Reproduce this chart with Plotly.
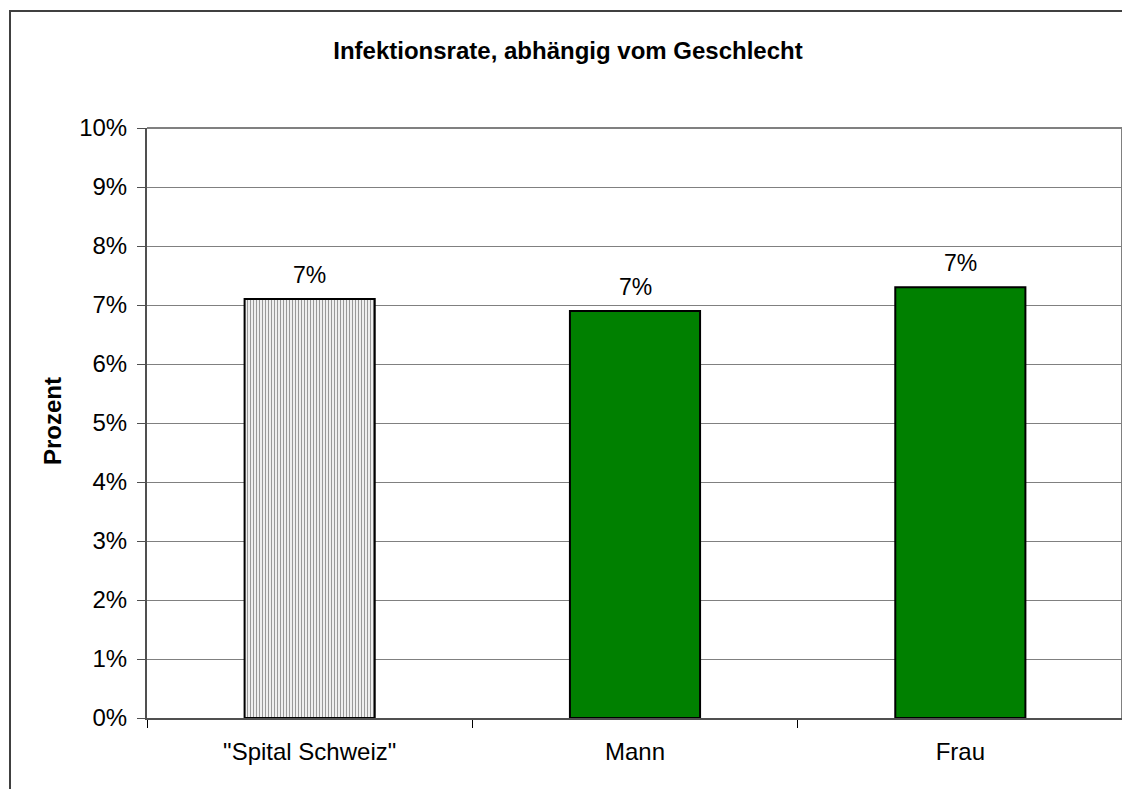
import plotly.graph_objects as go

categories = ['"Spital Schweiz"', "Mann", "Frau"]
values = [0.071, 0.069, 0.073]
bar_colors = ["#EFEFEF", "#008000", "#008000"]
title_text = "Infektionsrate, abhängig vom Geschlecht"
y_title = "Prozent"
y_ticks = [i / 100 for i in range(0, 11)]
y_ticklabels = [f"{i}%" for i in range(0, 11)]

W, H = 1130, 789
OFF = 8  # page offset of the figure in the screenshot
# target plot-area edges in screen pixels
SL, SR, ST, SB = 147, 1123, 128, 718
L, T = SL - OFF, ST - OFF
R = W - (SR - OFF)
B = H - (SB - OFF)
pw, ph = W - L - R, H - T - B

def px_x(sx):
    return (sx - SL) / pw

def px_y(sy):
    return (SB - sy) / ph

font = "Liberation Sans, Arial, sans-serif"

fig = go.Figure()
fig.add_trace(go.Bar(
    x=categories,
    y=values,
    width=0.4,
    marker=dict(
        color=bar_colors,
        line=dict(color="#000000", width=2),
        pattern=dict(shape=["|", "", ""], fgcolor="#E6E6E6", bgcolor="#F1F1F1",
                     size=3, solidity=0.35),
    ),
    hoverinfo="skip",
))

annotations = []
for c, v in zip(categories, values):
    annotations.append(dict(
        x=c, y=v, xref="x", yref="y", text=f"{v:.0%}", showarrow=False,
        yanchor="bottom", yshift=9, font=dict(family=font, size=23, color="#000"),
    ))
annotations.append(dict(
    x=px_x(52), y=px_y(421), xref="paper", yref="paper", text=f"<b>{y_title}</b>",
    textangle=-90, showarrow=False, xanchor="center", yanchor="middle",
    font=dict(family=font, size=24, color="#000"),
))

shapes = [
    # outer chart border
    dict(type="rect", xref="paper", yref="paper",
         x0=px_x(10), x1=px_x(1140), y0=px_y(800), y1=px_y(11),
         line=dict(color="#404040", width=2), fillcolor="rgba(0,0,0,0)", layer="below"),
    # plot area top/right border
    dict(type="line", xref="paper", yref="paper", x0=px_x(1122), x1=px_x(1122), y0=0, y1=1,
         line=dict(color="#808080", width=2)),
    dict(type="line", xref="paper", yref="paper", x0=0, x1=px_x(1122), y0=1, y1=1,
         line=dict(color="#808080", width=2)),
]

fig.update_layout(
    width=W, height=H,
    margin=dict(l=L, r=R, t=T, b=B),
    paper_bgcolor="#FFFFFF",
    plot_bgcolor="#FFFFFF",
    showlegend=False,
    title=dict(text=f"<b>{title_text}</b>", x=(568 - OFF) / W, xref="container", xanchor="center",
               y=1 - (51 - OFF) / H, yref="container", yanchor="middle",
               font=dict(family=font, size=24, color="#000")),
    xaxis=dict(
        type="category",
        showline=True, linecolor="#505050", linewidth=2,
        ticks="outside", tickson="boundaries", ticklen=8, tickcolor="#000", tickwidth=1,
        tickfont=dict(family=font, size=24, color="#000"),
        ticklabelstandoff=11,
        showgrid=False,
    ),
    yaxis=dict(
        range=[0, 0.1],
        tickvals=y_ticks, ticktext=y_ticklabels,
        showline=True, linecolor="#505050", linewidth=2,
        ticks="outside", ticklen=8, tickcolor="#505050", tickwidth=1,
        tickfont=dict(family=font, size=24, color="#000"),
        ticklabelstandoff=5,
        showgrid=True, gridcolor="#808080", gridwidth=1,
        zeroline=False,
    ),
    annotations=annotations,
    shapes=shapes,
    bargap=0.6,
)

fig.write_html("out.html")
